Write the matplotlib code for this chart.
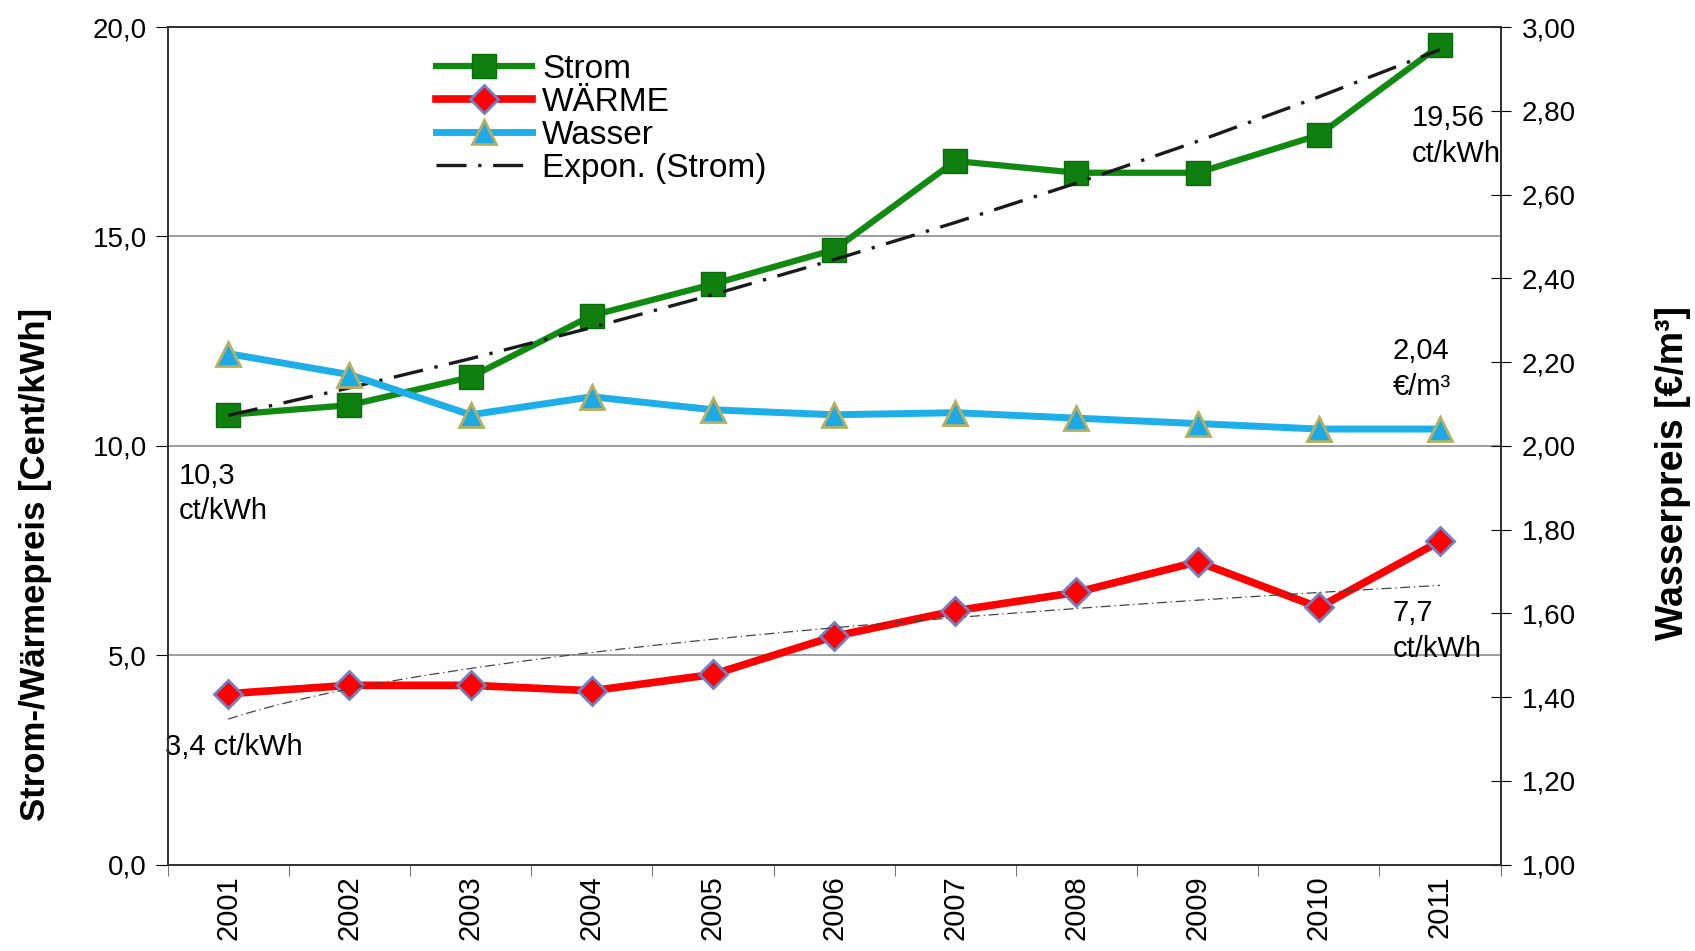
import numpy as np
import matplotlib
matplotlib.use("Agg")
import matplotlib.pyplot as plt
from matplotlib.ticker import FuncFormatter, FixedLocator

plt.rcParams['font.family'] = ['Liberation Sans', 'DejaVu Sans']

# data
years = ['2001', '2002', '2003', '2004', '2005', '2006', '2007', '2008', '2009', '2010', '2011']
strom = [10.74, 10.97, 11.64, 13.11, 13.86, 14.68, 16.80, 16.52, 16.52, 17.42, 19.56]
waerme = [4.08, 4.28, 4.28, 4.15, 4.54, 5.45, 6.06, 6.50, 7.23, 6.14, 7.72]
wasser = [2.22, 2.17, 2.074, 2.117, 2.086, 2.074, 2.079, 2.066, 2.053, 2.04, 2.04]

x = np.arange(len(years))
n = x + 1

# Excel-style trend lines: exponential for Strom, power for Waerme
b, a = np.polyfit(n, np.log(strom), 1)
strom_trend = np.exp(a + b * n)
p1, p0 = np.polyfit(np.log(n), np.log(waerme), 1)
n_fine = np.linspace(1, len(years), 100)
waerme_trend = np.exp(p0) * n_fine ** p1

fig = plt.figure(figsize=(16.95, 9.51), dpi=100)
ax = fig.add_axes([0.0989, 0.0909, 0.7864, 0.8807])
ax2 = ax.twinx()

# grid
for yv in [5, 10, 15]:
    ax.axhline(yv, color='#8c8c8c', lw=1.2, zorder=0)

l_strom, = ax.plot(x, strom, color='#108a10', lw=4.5, marker='s', ms=17,
                   mfc='#0f800f', mec='#0a6a0a', mew=1, zorder=3, label='Strom')
l_trend, = ax.plot(x, strom_trend, color='#1a1a1a', lw=2.4, dashes=(9, 3.5, 1, 3.5),
                   zorder=4, label='Expon. (Strom)')
l_waerme, = ax.plot(x, waerme, color='#ff0000', lw=5.5, marker='D', ms=14,
                    mfc='#ff0000', mec='#6f80c4', mew=2, zorder=3, label='WÄRME')
ax.plot(n_fine - 1, waerme_trend, color='#444444', lw=0.9, dashes=(8, 3, 1, 3), zorder=4)

l_wasser, = ax2.plot(x, wasser, color='#1eaee8', lw=5, marker='^', ms=17,
                     mfc='#1ea8e6', mec='#b4b060', mew=2, zorder=3, label='Wasser')

ax.set_xlim(-0.5, len(years) - 0.5)
ax.set_ylim(0, 20)
ax2.set_ylim(1, 3)

ax.set_yticks([0, 5, 10, 15, 20])
ax.yaxis.set_major_formatter(FuncFormatter(lambda v, p: f"{v:.1f}".replace('.', ',')))
ax2.set_yticks(np.round(np.arange(1.0, 3.01, 0.2), 2))
ax2.yaxis.set_major_formatter(FuncFormatter(lambda v, p: f"{v:.2f}".replace('.', ',')))

ax.set_xticks(x)
ax.set_xticklabels(years, rotation=90, fontsize=21)
ax.xaxis.set_minor_locator(FixedLocator(np.arange(-0.5, len(years), 1.0)))
ax.tick_params(axis='x', which='major', length=0, pad=8)
ax.tick_params(axis='x', which='minor', length=8, direction='out', color='#555555')
ax.tick_params(axis='y', labelsize=20, length=9, direction='out', pad=6)
ax2.tick_params(axis='y', labelsize=20, length=14, direction='inout', pad=8)

for sp in ['left', 'right', 'top', 'bottom']:
    ax.spines[sp].set_color('#333333')
    ax2.spines[sp].set_color('#333333')
    ax.spines[sp].set_linewidth(1.3)
    ax2.spines[sp].set_linewidth(1.3)

fig.text(0.021, 0.407, 'Strom-/Wärmepreis [Cent/kWh]', rotation=90, fontsize=25,
         fontweight='bold', ha='center', va='center')
fig.text(0.987, 0.503, 'Wasserpreis [€/m³]', rotation=90, fontsize=27,
         fontweight='bold', ha='center', va='center')

# value annotations
ax.text(-0.41, 9.62, '10,3\nct/kWh', fontsize=21, va='top', ha='left', linespacing=1.35)
ax.text(9.77, 18.15, '19,56\nct/kWh', fontsize=21, va='top', ha='left', linespacing=1.35)
ax.text(9.61, 12.6, '2,04\n€/m³', fontsize=21, va='top', ha='left', linespacing=1.35)
ax.text(-0.52, 2.8, '3,4 ct/kWh', fontsize=21, va='center', ha='left')
ax.text(9.61, 6.33, '7,7\nct/kWh', fontsize=21, va='top', ha='left', linespacing=1.35)

ax.set_zorder(ax2.get_zorder() - 1)
ax.patch.set_visible(True)
ax2.patch.set_visible(False)

leg = ax2.legend(handles=[l_strom, l_waerme, l_wasser, l_trend], loc='upper left',
                 bbox_to_anchor=(0.201, 0.968), frameon=False, fontsize=24,
                 handlelength=2.9, handletextpad=0.3, labelspacing=0.06,
                 borderpad=0, borderaxespad=0)

fig.savefig('out.png', dpi=100)
